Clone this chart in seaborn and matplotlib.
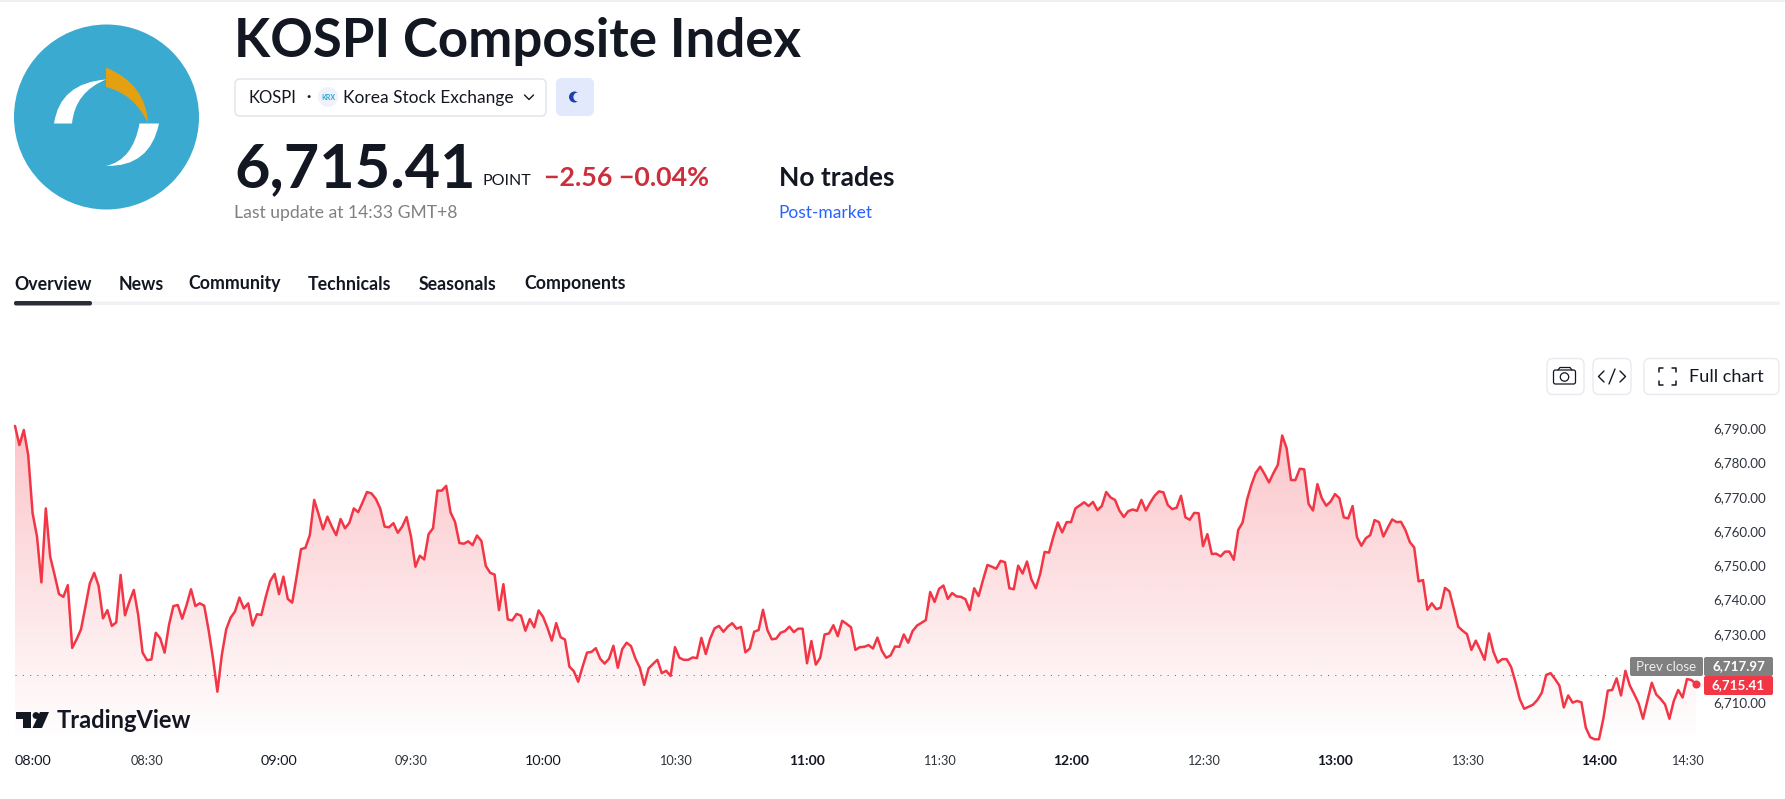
import numpy as np
import pandas as pd
import matplotlib
matplotlib.use("Agg")
import matplotlib.pyplot as plt
from matplotlib.patches import Circle, FancyBboxPatch, PathPatch, Polygon, Rectangle
from matplotlib.path import Path
import seaborn as sns

index_values = [
    6790.7, 6785.1, 6789.5, 6782.2, 6765.2, 6758.4, 6745.0, 6766.6, 6752.5, 6747.2, 6741.6, 6740.8, 6744.2, 6725.9, 6728.4, 6731.3,
    6737.9, 6744.7, 6747.8, 6744.0, 6734.5, 6736.9, 6732.3, 6733.3, 6747.2, 6735.4, 6739.4, 6742.8, 6735.5, 6724.5, 6722.3, 6722.5,
    6730.3, 6728.7, 6724.5, 6732.6, 6738.1, 6738.4, 6734.4, 6738.4, 6743.0, 6738.1, 6738.9, 6738.2, 6731.1, 6722.8, 6713.1, 6723.8,
    6731.3, 6734.7, 6736.5, 6740.6, 6737.4, 6738.9, 6732.4, 6735.7, 6735.5, 6740.8, 6745.4, 6747.5, 6741.6, 6746.7, 6740.2, 6739.1,
    6746.7, 6754.7, 6755.1, 6758.8, 6769.1, 6764.9, 6760.5, 6764.2, 6761.3, 6758.8, 6763.5, 6760.8, 6762.4, 6766.6, 6765.5, 6768.4,
    6771.4, 6771.0, 6769.4, 6766.6, 6761.3, 6761.1, 6762.3, 6759.5, 6761.3, 6764.1, 6758.4, 6749.6, 6752.8, 6751.7, 6759.1, 6760.8,
    6771.8, 6771.8, 6773.2, 6765.4, 6762.7, 6756.5, 6756.3, 6757.0, 6755.9, 6758.7, 6757.1, 6749.8, 6747.8, 6747.3, 6736.9, 6744.5,
    6734.2, 6733.9, 6735.8, 6735.3, 6730.9, 6734.3, 6731.9, 6736.8, 6735.0, 6731.8, 6728.0, 6733.1, 6729.0, 6728.3, 6720.4, 6719.1,
    6716.0, 6720.4, 6724.5, 6724.7, 6725.8, 6722.7, 6721.3, 6722.7, 6726.5, 6720.1, 6725.5, 6727.4, 6726.4, 6722.8, 6720.1, 6715.1,
    6719.9, 6721.2, 6722.4, 6718.5, 6719.2, 6717.7, 6726.1, 6723.0, 6722.4, 6722.4, 6723.1, 6722.9, 6728.8, 6724.1, 6728.6, 6731.6,
    6732.3, 6730.6, 6732.1, 6733.1, 6731.5, 6732.0, 6724.6, 6725.7, 6730.6, 6731.1, 6737.0, 6731.1, 6728.4, 6728.6, 6730.3, 6730.8,
    6732.1, 6730.5, 6731.5, 6731.5, 6721.4, 6727.9, 6721.0, 6723.0, 6729.8, 6730.1, 6732.5, 6729.3, 6733.8, 6732.9, 6731.9, 6725.3,
    6726.1, 6726.2, 6726.7, 6725.7, 6728.9, 6725.1, 6723.0, 6723.7, 6726.3, 6726.2, 6729.8, 6727.4, 6730.8, 6732.4, 6733.2, 6734.0,
    6742.2, 6739.3, 6743.1, 6744.1, 6740.2, 6741.9, 6740.9, 6740.8, 6740.1, 6736.9, 6743.3, 6741.0, 6745.7, 6750.1, 6749.6, 6749.0,
    6751.3, 6750.9, 6743.3, 6743.0, 6749.9, 6747.6, 6751.1, 6745.9, 6743.3, 6747.5, 6753.9, 6753.7, 6758.4, 6762.5, 6759.6, 6762.6,
    6762.6, 6766.6, 6767.5, 6768.4, 6767.3, 6768.5, 6766.1, 6767.3, 6771.4, 6769.8, 6769.1, 6766.0, 6764.1, 6765.8, 6766.3, 6765.9,
    6769.1, 6766.0, 6768.3, 6770.3, 6771.6, 6771.3, 6767.6, 6766.4, 6766.8, 6770.3, 6764.0, 6763.3, 6765.3, 6765.2, 6755.6, 6759.1,
    6753.3, 6753.4, 6752.6, 6754.0, 6754.0, 6751.6, 6760.3, 6762.5, 6769.1, 6773.5, 6777.0, 6778.8, 6776.6, 6774.2, 6776.9, 6779.3,
    6787.9, 6784.2, 6774.9, 6774.9, 6778.2, 6778.0, 6767.9, 6766.0, 6773.7, 6769.6, 6767.4, 6768.6, 6770.8, 6769.6, 6764.0, 6763.7,
    6767.3, 6758.2, 6755.7, 6757.9, 6758.8, 6763.2, 6762.6, 6758.4, 6761.0, 6763.4, 6762.6, 6762.7, 6760.3, 6756.8, 6755.2, 6745.3,
    6745.7, 6737.0, 6738.9, 6737.2, 6737.6, 6743.4, 6742.4, 6737.4, 6732.1, 6730.9, 6729.9, 6725.3, 6728.0, 6725.3, 6722.4, 6730.1,
    6724.8, 6721.6, 6722.6, 6722.6, 6720.4, 6716.0, 6710.9, 6708.1, 6708.7, 6709.3, 6710.7, 6712.8, 6718.0, 6718.5, 6716.8, 6714.9,
    6708.5, 6712.0, 6709.9, 6710.4, 6710.0, 6702.6, 6699.8, 6699.2, 6699.2, 6705.3, 6713.4, 6713.6, 6717.0, 6712.0, 6719.2, 6714.9,
    6712.4, 6709.7, 6705.2, 6710.4, 6715.7, 6712.3, 6711.0, 6709.4, 6705.2, 6710.4, 6713.6, 6711.4, 6716.8, 6716.5, 6715.41,
]
prev_close = 6717.97
last_price = 6715.41
y_ticks = [6710, 6720, 6730, 6740, 6750, 6760, 6770, 6780, 6790]
y_tick_labels = ["6,710.00", "", "6,730.00", "6,740.00", "6,750.00", "6,760.00", "6,770.00", "6,780.00", "6,790.00"]
x_tick_minutes = [4, 30, 60, 90, 120, 150, 180, 210, 240, 270, 300, 330, 360, 380]
x_tick_labels = ["08:00", "08:30", "09:00", "09:30", "10:00", "10:30", "11:00", "11:30", "12:00", "12:30", "13:00", "13:30", "14:00", "14:30"]
bold_hours = ["11:00", "12:00", "13:00", "14:00"]
medium_hours = ["08:00", "09:00", "10:00"]
tab_labels = ["Overview", "News", "Community", "Technicals", "Seasonals", "Components"]
tab_left = [14, 119, 188, 308, 419, 524]

RED = "#F23645"
INK = "#131722"
FONT = "Lato"

sns.set_theme(style="white")
plt.rcParams["font.family"] = [FONT, "DejaVu Sans"]

W, H = 1785, 799
fig = plt.figure(figsize=(W / 100, H / 100), dpi=100, facecolor="white")

# main chart, placed so that one minute spans 4.4 px and ten points 34.25 px
L, R, T, B = 13, 1703, 410, 742
ax = fig.add_axes([L / W, 1 - B / H, (R - L) / W, (B - T) / H], facecolor="none")
ax.set_xlim((L - 15) / 4.4, (R - 15) / 4.4)
ax.set_ylim(6790 - (B - 428.3) / 3.425, 6790 - (T - 428.3) / 3.425)

df = pd.DataFrame({"minute": np.arange(len(index_values)), "value": index_values})

# gradient area under the line
top_v, bottom_v = ax.get_ylim()[1], ax.get_ylim()[0]
grad = np.zeros((256, 2, 4))
grad[..., :3] = matplotlib.colors.to_rgb(RED)
grad[..., 3] = np.linspace(0.29, 0.0, 256)[:, None]
poly = ax.fill_between(df["minute"], df["value"], bottom_v, color="none", lw=0)
im = ax.imshow(grad, extent=[ax.get_xlim()[0], ax.get_xlim()[1], bottom_v, 6790], origin="upper",
               aspect="auto", zorder=1, interpolation="bilinear")
im.set_clip_path(poly.get_paths()[0], transform=ax.transData)
ax.set_xlim((L - 15) / 4.4, (R - 15) / 4.4)
ax.set_ylim(bottom_v, top_v)

ax.plot([ax.get_xlim()[0] + 0.4, ax.get_xlim()[1]], [prev_close, prev_close], color="#6b6f78", lw=0.75,
        dashes=(1, 6), zorder=2)
sns.lineplot(data=df, x="minute", y="value", ax=ax, color=RED, linewidth=1.8, estimator=None, zorder=3)
ax.scatter([df["minute"].iloc[-1]], [last_price], s=34, color=RED, zorder=4, linewidths=0)

ax.set_xlabel("")
ax.set_ylabel("")
sns.despine(ax=ax, left=True, bottom=True, right=True, top=True)
ax.yaxis.tick_right()
ax.set_yticks(y_ticks)
ax.set_yticklabels(y_tick_labels, fontsize=9.6, color="#2f333d")
ax.set_xticks(x_tick_minutes)
ax.set_xticklabels(x_tick_labels, fontsize=9.2, color="#2f333d")
ax.tick_params(axis="both", length=0)
ax.tick_params(axis="y", pad=7.5)
ax.tick_params(axis="x", pad=9.5)
for lab in ax.get_xticklabels():
    if lab.get_text() in bold_hours:
        lab.set_fontsize(10)
        lab.set_fontweight("bold")
        lab.set_color(INK)
    elif lab.get_text() in medium_hours:
        lab.set_fontsize(10.4)
        lab.set_color(INK)

# page furniture, in page pixels
ov = fig.add_axes([0, 0, 1, 1], facecolor="none", zorder=5)
ov.set_xlim(0, W)
ov.set_ylim(H, 0)
ov.axis("off")


def txt(x, y, s, size, color=INK, weight="normal", ha="left", **kw):
    return ov.text(x, y, s, fontsize=size, color=color, fontweight=weight, ha=ha, va="center", **kw)


def curve(points, color):
    """points: start, then (ctrl, end) pairs of quadratic segments."""
    verts = [points[0]]
    codes = [Path.MOVETO]
    for c, e in points[1:]:
        verts += [c, e]
        codes += [Path.CURVE3, Path.CURVE3]
    verts.append(points[0])
    codes.append(Path.CLOSEPOLY)
    ov.add_patch(PathPatch(Path(verts, codes), fc=color, ec="none"))


ov.add_patch(Rectangle((0, 0), W, 1.5, fc="#f0f0f0", ec="none"))

# logo
ov.add_patch(Circle((106.5, 117), 92.5, fc="#3BAAD0", ec="none"))
curve([(54, 123.5), ((60, 83), (106, 79.5)), ((75, 92), (72, 123.5))], "white")
curve([(106, 67.5), ((146, 84), (148, 123)), ((134, 94), (106, 87))], "#E2A012")
curve([(159, 123.5), ((150, 167), (106, 166)), ((133, 160), (139.5, 123.5))], "white")

# title block
txt(234, 41, "KOSPI Composite Index", 38, weight="bold")
ov.add_patch(FancyBboxPatch((235, 79), 311, 37, boxstyle="round,pad=0,rounding_size=5", fc="white", ec="#E0E3EB", lw=1))
txt(248, 98, "KOSPI", 12)
txt(306, 97, "·", 11.5, weight="bold")
ov.add_patch(Circle((328, 97), 10, fc="#EFF2FA", ec="none"))
txt(328, 97.5, "KRX", 5, color="#22A7D6", weight="bold", ha="center")
txt(343, 98, "Korea Stock Exchange", 12.5)
ov.plot([524.5, 529, 533.5], [95, 99.5, 95], color=INK, lw=1)
ov.add_patch(FancyBboxPatch((556, 78), 38, 38, boxstyle="round,pad=0,rounding_size=6", fc="#E3E9FD", ec="none"))
ov.add_patch(Circle((574.5, 97), 5.5, fc="#1E3FAE", ec="none"))
ov.add_patch(Circle((578, 97), 4.6, fc="#E3E9FD", ec="none"))

txt(234, 169, "6,715.41", 44, weight="bold")
txt(482, 181, "POINT", 11.5)
txt(544, 177.5, "\u22122.56 \u22120.04%", 19.3, color="#CC2F3C", weight="bold")
txt(779, 178, "No trades", 19, weight="bold")
txt(234, 213, "Last update at 14:33 GMT+8", 12.6, color="#808080")
txt(778, 213, "Post-market", 12.5, color="#2962FF")

# tabs
for s, x in zip(tab_labels, tab_left):
    txt(x, 284, s, 12.8, weight="bold")
ov.add_patch(FancyBboxPatch((14, 301.5), 1766, 3.5, boxstyle="round,pad=0,rounding_size=1.5", fc="#F0F1F2", ec="none"))
ov.add_patch(FancyBboxPatch((14, 301), 78, 4.5, boxstyle="round,pad=0,rounding_size=2", fc="#2A2E39", ec="none"))

# chart buttons
for x, w in [(1547, 37), (1593, 38), (1644, 135)]:
    ov.add_patch(FancyBboxPatch((x, 358.5), w, 36, boxstyle="round,pad=0,rounding_size=6", fc="white", ec="#E8EAEF", lw=1))
ov.add_patch(FancyBboxPatch((1553.5, 370), 22, 14, boxstyle="round,pad=0,rounding_size=2", fc="white", ec=INK, lw=0.9))
ov.plot([1558, 1560, 1570, 1572], [370, 367.5, 367.5, 370], color=INK, lw=0.9)
ov.add_patch(Circle((1564.5, 377), 4.2, fc="white", ec=INK, lw=0.9))
ov.plot([1604, 1598.5, 1604], [371, 376.5, 382], color=INK, lw=1)
ov.plot([1620, 1625.5, 1620], [371, 376.5, 382], color=INK, lw=1)
ov.plot([1609, 1615], [384, 369], color=INK, lw=1)
for sx, sy, cx, cy in [(1658.5, 368, 1, 1), (1675.5, 368, -1, 1), (1658.5, 384.5, 1, -1), (1675.5, 384.5, -1, -1)]:
    ov.plot([sx + 4 * cx, sx, sx], [sy, sy, sy + 4 * cy], color=INK, lw=1.1)
txt(1689, 377, "Full chart", 13.1)

# price tags
ov.add_patch(FancyBboxPatch((1630, 657), 73, 19, boxstyle="round,pad=0,rounding_size=2", fc="#808080", ec="none"))
txt(1666.5, 667, "Prev close", 9.6, color="#EDEDED", ha="center")
ov.add_patch(FancyBboxPatch((1704, 657), 69, 19, boxstyle="round,pad=0,rounding_size=2", fc="#808080", ec="none"))
txt(1738.5, 666, f"{prev_close:,.2f}", 9.6, color="white", ha="center", weight="bold")
ov.add_patch(FancyBboxPatch((1704, 676), 69, 19, boxstyle="round,pad=0,rounding_size=2", fc=RED, ec="none"))
txt(1738.5, 685.5, f"{last_price:,.2f}", 9.6, color="white", ha="center", weight="bold")

# TradingView mark
ov.add_patch(Polygon([(16, 712), (31, 712), (31, 728), (23, 728), (23, 719), (16, 719)], fc=INK, ec="none"))
ov.add_patch(Circle((36, 715.5), 3.4, fc=INK, ec="none"))
ov.add_patch(Polygon([(40, 712), (49, 712), (42, 728), (32.5, 728)], fc=INK, ec="none"))
txt(57, 721, "TradingView", 17, weight="bold")

fig.savefig("out.png", dpi=100, facecolor="white")
